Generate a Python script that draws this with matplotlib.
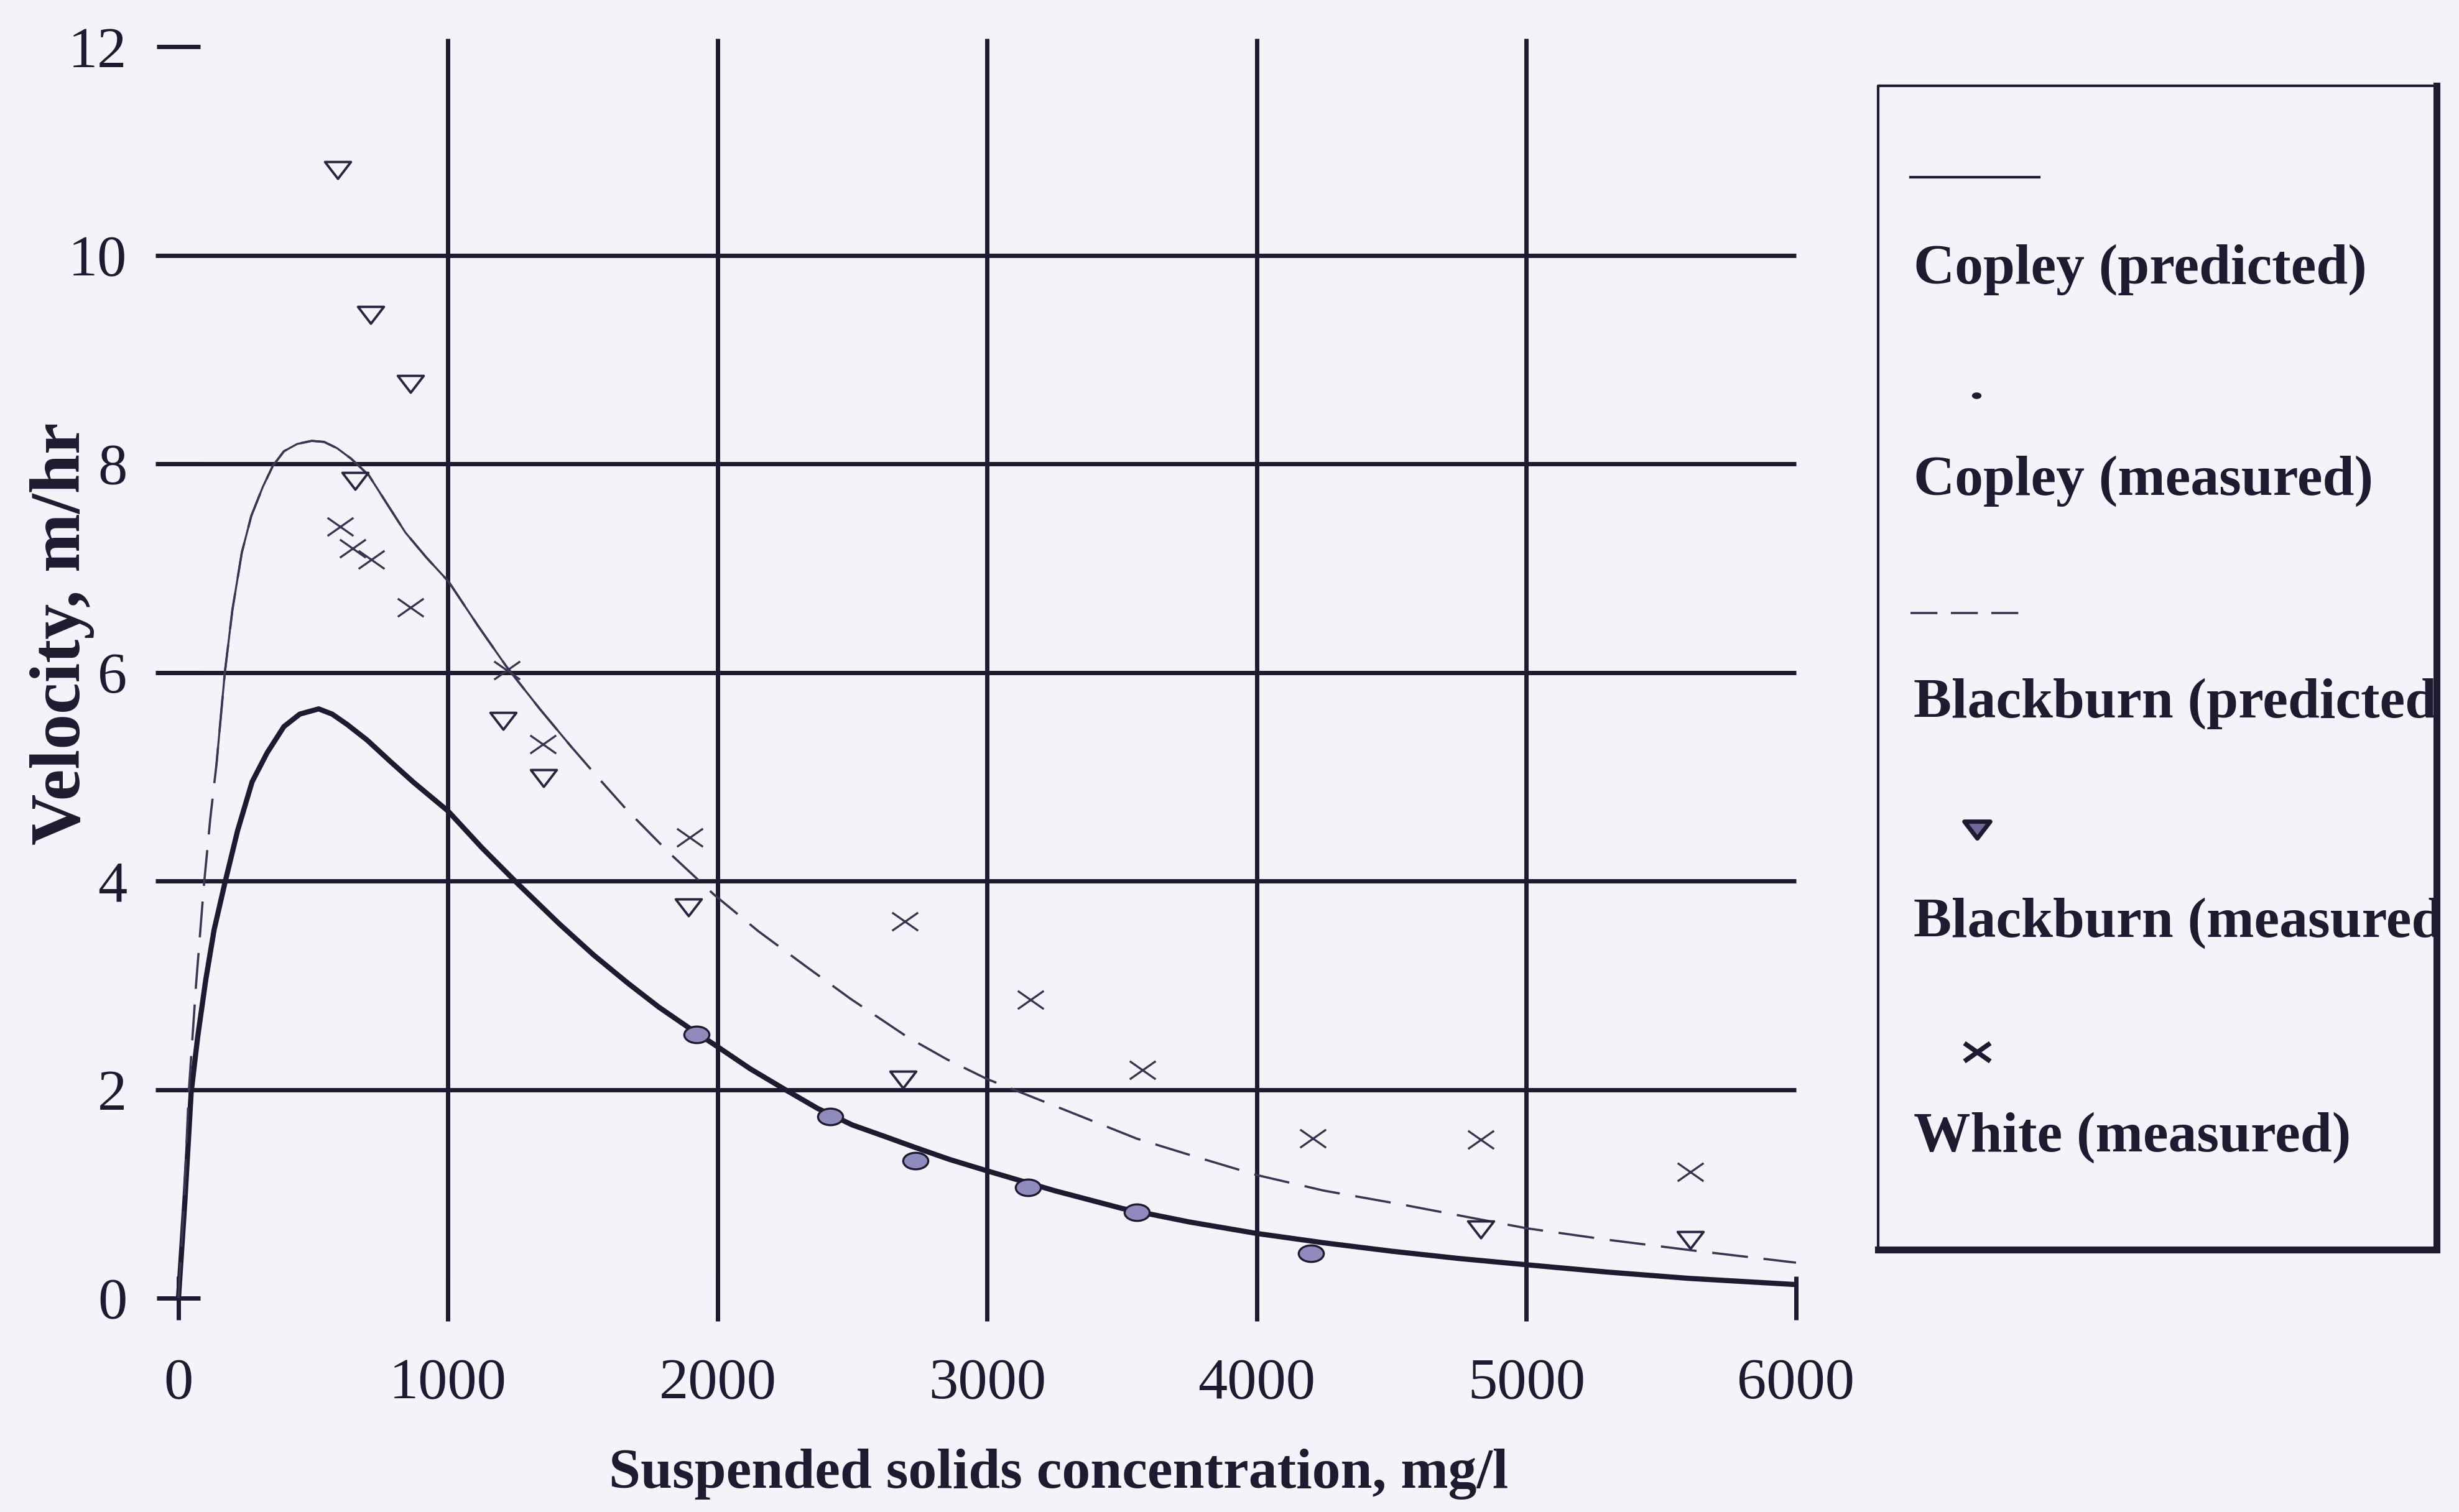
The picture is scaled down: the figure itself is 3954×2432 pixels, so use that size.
import matplotlib
matplotlib.use("Agg")
import matplotlib.pyplot as plt
from matplotlib.path import Path
from matplotlib.transforms import Affine2D
import numpy as np

# ---------------- data ----------------
copley_pred_x = [0, 24, 47, 71, 101, 132, 172, 219, 273, 329, 391, 450, 520, 570, 626,
                 700, 784, 870, 1000, 1125, 1252, 1412, 1540, 1667, 1782, 1900, 2000,
                 2120, 2250, 2370, 2500, 2620, 2727, 2860, 3000, 3250, 3500, 3750,
                 4000, 4250, 4500, 4750, 5000, 5300, 5600, 5800, 6000]
copley_pred_y = [0, 0.94, 1.97, 2.50, 3.05, 3.53, 3.98, 4.48, 4.95, 5.23, 5.48, 5.60,
                 5.65, 5.60, 5.50, 5.35, 5.15, 4.95, 4.67, 4.32, 3.99, 3.59, 3.29, 3.02,
                 2.79, 2.58, 2.41, 2.20, 2.00, 1.82, 1.66, 1.55, 1.45, 1.33, 1.22,
                 1.03, 0.86, 0.73, 0.62, 0.53, 0.45, 0.38, 0.32, 0.25, 0.19, 0.16,
                 0.13]

blackburn_pred_x = [0, 20, 38, 65, 94, 118, 141, 172, 200, 235, 270, 313, 350, 391,
                    440, 494, 540, 588, 640, 706, 770, 842, 920, 1002, 1110, 1218,
                    1340, 1456, 1560, 1660, 1820, 1986, 2150, 2328, 2493, 2706, 2850,
                    3000, 3263, 3554, 3780, 4000, 4250, 4533, 5000, 5300, 5608, 6000]
blackburn_pred_y = [0, 0.90, 1.97, 3.00, 3.95, 4.60, 5.12, 6.00, 6.60, 7.15, 7.50,
                    7.78, 7.98, 8.12, 8.19, 8.22, 8.21, 8.15, 8.05, 7.89, 7.63, 7.34,
                    7.10, 6.87, 6.45, 6.05, 5.65, 5.29, 4.98, 4.69, 4.27, 3.87, 3.52,
                    3.18, 2.87, 2.50, 2.29, 2.10, 1.83, 1.53, 1.35, 1.18, 1.03, 0.90,
                    0.67, 0.56, 0.46, 0.34]

copley_meas_x = [1921, 2417, 2734, 3150, 3554, 4200]
copley_meas_y = [2.53, 1.74, 1.32, 1.06, 0.82, 0.43]

blackburn_meas_x = [591, 713, 861, 654, 1204, 1354, 1891, 2687, 4830, 5608]
blackburn_meas_y = [10.82, 9.43, 8.77, 7.84, 5.54, 4.99, 3.75, 2.10, 0.66, 0.56]

white_meas_x = [600, 645, 715, 861, 1218, 1352, 1896, 2694, 3160, 3575, 4208, 4830,
                5608]
white_meas_y = [7.40, 7.19, 7.08, 6.62, 6.02, 5.31, 4.42, 3.61, 2.86, 2.19, 1.53,
                1.52, 1.21]

x_ticks = [0, 1000, 2000, 3000, 4000, 5000, 6000]
y_ticks = [0, 2, 4, 6, 8, 10, 12]
x_grid = [1000, 2000, 3000, 4000, 5000]
y_grid = [2, 4, 6, 8, 10]

legend_labels = ["Copley (predicted)", "Copley (measured)", "Blackburn (predicted)",
                 "Blackburn (measured)", "White (measured)"]

# ---------------- style ----------------
plt.rcParams['font.family'] = ['Liberation Serif', 'DejaVu Serif']
BG = '#f4f3fa'
INK = '#1f1a30'
THIN = '#3b3552'
W, H = 3955, 2432

# flattened marker shapes
tri_marker = Path([(-1, 0.62), (1, 0.62), (0, -0.68), (-1, 0.62)],
                  [Path.MOVETO, Path.LINETO, Path.LINETO, Path.CLOSEPOLY])
cross_marker = Path([(-1, -0.7), (1, 0.7), (-1, 0.7), (1, -0.7)],
                    [Path.MOVETO, Path.LINETO, Path.MOVETO, Path.LINETO])
ellipse_marker = Path.unit_circle().transformed(Affine2D().scale(1.0, 0.66))

fig = plt.figure(figsize=(W / 100, H / 100), dpi=100, facecolor=BG)

# plot area: x 0..6000 -> px 287..2888, y 0..12 -> px 2088..75
ax = fig.add_axes([287 / W, (H - 2088) / H, (2888 - 287) / W, (2088 - 75) / H])
ax.set_facecolor('none')
ax.set_xlim(0, 6000)
ax.set_ylim(0, 12)
for s in ax.spines.values():
    s.set_visible(False)

# grid
ax.hlines(y_grid, -85, 6000, colors=INK, lw=5, clip_on=False, zorder=1)
ax.vlines(x_grid, -0.22, 12.08, colors=INK, lw=5, clip_on=False, zorder=1)

# ticks
ax.set_xticks(x_ticks)
ax.set_yticks(y_ticks)
ax.tick_params(axis='both', direction='inout', length=51, width=5, color=INK,
               labelcolor=INK, labelsize=68)
ax.tick_params(axis='y', pad=34)
ax.tick_params(axis='x', pad=44)

# predicted curves
ax.plot(copley_pred_x, copley_pred_y, color=INK, lw=6, solid_capstyle='butt',
        solid_joinstyle='round', zorder=3, clip_on=False)
bx = np.array(blackburn_pred_x)
by = np.array(blackburn_pred_y)
ax.plot(bx, by, color=THIN, lw=2.6, dashes=(16, 7), zorder=3, clip_on=False)
mid = (bx >= 141) & (bx <= 1456)
ax.plot(bx[mid], by[mid], color=THIN, lw=2.3, solid_joinstyle='round', zorder=3)

# measured points
ax.plot(copley_meas_x, copley_meas_y, ls='none', marker=ellipse_marker,
        markersize=29, markerfacecolor='#8f8cbd', markeredgecolor=INK,
        markeredgewidth=2.4, zorder=4)
ax.plot(blackburn_meas_x, blackburn_meas_y, ls='none', marker=tri_marker,
        markersize=30, markerfacecolor='none', markeredgecolor='#2a2440',
        markeredgewidth=2.8, zorder=4)
ax.plot(white_meas_x, white_meas_y, ls='none', marker=cross_marker,
        markersize=30, markeredgecolor='#3a3450', markeredgewidth=2.4, zorder=4)

# axis titles
ax.set_xlabel("Suspended solids concentration, mg/l", fontsize=66,
              fontweight='bold', color=INK)
ax.xaxis.set_label_coords((1702 - 287) / (2888 - 287), (2088 - 2330) / (2088 - 75))
fig.text(100 / W, 1 - 1019 / H, "Velocity, m/hr", rotation=90, ha='center',
         va='center', fontsize=82, fontweight='bold', color=INK)

# ---------------- legend box ----------------
L, R, T, B = 3020, 3918, 138, 2010
lax = fig.add_axes([L / W, (H - B) / H, (R - L) / W, (B - T) / H])
lax.set_xlim(0, 1)
lax.set_ylim(0, 1)
lax.axis('off')
lax.plot([0, 0, 1], [0, 1, 1], color=INK, lw=3, clip_on=False)
lax.plot([1, 1, 0], [1, 0, 0], color=INK, lw=8, clip_on=False,
         solid_joinstyle='miter')


def vy(py):
    return (B - py) / (B - T)


def ux(px):
    return (px - L) / (R - L)


lax.plot([ux(3072), ux(3279)], [vy(285)] * 2, color=INK, lw=3)
lax.plot([ux(3178)], [vy(636)], ls='none', marker=ellipse_marker, markersize=10,
         markerfacecolor=INK, markeredgecolor=INK)
lax.plot([ux(3072), ux(3253)], [vy(986)] * 2, color=THIN, lw=2.6,
         dashes=(12, 6))
lax.plot([ux(3179)], [vy(1334)], ls='none', marker=tri_marker, markersize=30,
         markerfacecolor='#6d6a99', markeredgecolor=INK, markeredgewidth=5)
lax.plot([ux(3179)], [vy(1692)], ls='none', marker=cross_marker, markersize=30,
         markeredgecolor=INK, markeredgewidth=5.5)

text_rows = [434, 774, 1132, 1485, 1830]
for lab, py in zip(legend_labels, text_rows):
    lax.text(ux(3077), vy(py), lab, ha='left', va='center', fontsize=66,
             fontweight='bold', color=INK, clip_on=True)

fig.savefig('out.png', dpi=100, facecolor=BG)
